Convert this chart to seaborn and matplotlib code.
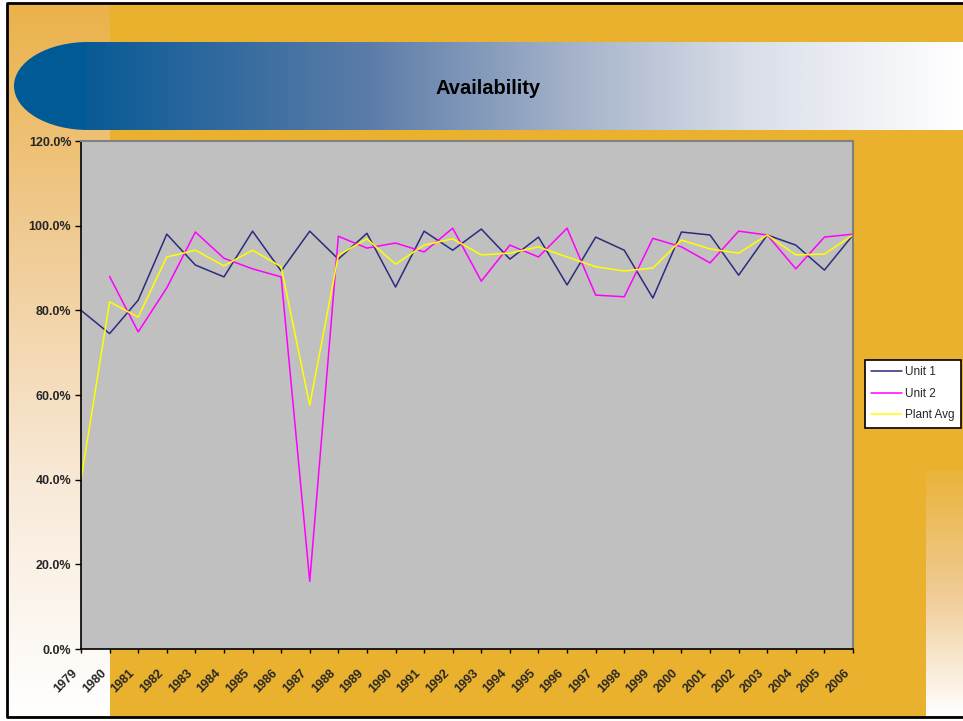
import numpy as np
import pandas as pd
import matplotlib
matplotlib.use('Agg')
import matplotlib.pyplot as plt
import matplotlib.transforms as mtransforms
import seaborn as sns
from matplotlib.patches import Rectangle, Ellipse
from matplotlib.colors import LinearSegmentedColormap
from matplotlib.ticker import PercentFormatter

# ---------------- data ----------------
years = list(range(1979, 2007))
unit1 = [80.0, 74.5, 82.4, 98.0, 90.7, 87.9, 98.7, 89.3, 98.7, 92.1, 98.2, 85.5, 98.7, 94.2,
         99.2, 92.1, 97.3, 86.0, 97.3, 94.2, 82.9, 98.5, 97.8, 88.3, 97.8, 95.4, 89.5, 97.8]
unit2 = [np.nan, 88.0, 74.9, 85.3, 98.5, 92.3, 89.8, 87.9, 16.0, 97.5, 94.7, 95.9, 93.8, 99.4,
         86.9, 95.4, 92.6, 99.4, 83.6, 83.2, 97.0, 95.0, 91.2, 98.7, 97.8, 89.8, 97.3, 98.0]
plant_avg = [40.0, 82.0, 78.4, 92.6, 94.2, 90.5, 94.2, 90.3, 57.6, 93.0, 96.9, 90.9, 95.4, 96.9,
             93.1, 93.5, 95.0, 92.6, 90.3, 89.3, 90.0, 96.6, 94.5, 93.5, 97.8, 93.1, 93.3, 97.8]
series_names = ['Unit 1', 'Unit 2', 'Plant Avg']
series_colors = ['#2B2B80', '#FF00FF', '#FFFF00']
title = 'Availability'

df = pd.concat([
    pd.DataFrame({'Year': years, 'Value': np.array(v) / 100.0, 'Series': n})
    for n, v in zip(series_names, [unit1, unit2, plant_avg])
], ignore_index=True).dropna()

# ---------------- figure ----------------
sns.set_theme(style='white')
plt.rcParams['font.family'] = ['Liberation Sans', 'DejaVu Sans']

W, H = 963, 721
fig = plt.figure(figsize=(W / 100, H / 100), dpi=100)
fig.patch.set_facecolor('white')

# background decoration axes (pixel coordinates)
bg = fig.add_axes([0, 0, 1, 1], zorder=0)
bg.add_patch(Rectangle((7, 3), W, 714, facecolor='#EAB12F', edgecolor='none', zorder=1))
grad = np.linspace(0, 1, 256).reshape(-1, 1)
cm_left = LinearSegmentedColormap.from_list('l', ['#EBB24A', '#F0CB94', '#F8E9D7', '#FFFFFF'])
bg.imshow(grad, extent=(8, 110, 716, 4), cmap=cm_left, aspect='auto',
          interpolation='bilinear', zorder=2)
cm_right = LinearSegmentedColormap.from_list('r', ['#EAB33A', '#F0CB94', '#FFFFFF'])
bg.imshow(grad, extent=(926, W, 716, 470), cmap=cm_right, aspect='auto',
          interpolation='bilinear', zorder=2)
# title banner
bg.add_patch(Ellipse((88, 86), 148, 88, facecolor='#005A96', edgecolor='none', zorder=3))
gradx = np.linspace(0, 1, 512).reshape(1, -1)
cm_ban = LinearSegmentedColormap.from_list(
    'b', [(0, '#0A5A96'), (0.32, '#5B7CA8'), (0.55, '#A3B1C9'), (0.75, '#D8DDE7'), (1, '#FFFFFF')])
bg.imshow(gradx, extent=(86, W, 130, 42), cmap=cm_ban, aspect='auto',
          interpolation='bilinear', zorder=4)
# outer black frame (left, top, bottom)
bg.plot([W, 7, 7, W], [3, 3, 717, 717], color='black', lw=2, solid_capstyle='butt', zorder=5)
bg.set_xlim(0, W)
bg.set_ylim(H, 0)
bg.axis('off')

fig.text(488 / W, 1 - 88 / H, title, ha='center', va='center',
         fontsize=14.5, fontweight='bold', color='black', zorder=5)

# ---------------- chart ----------------
ax = fig.add_axes([81 / W, 1 - 649 / H, (853 - 81) / W, (649 - 141) / H], zorder=2)
ax.set_facecolor('#C0C0C0')
sns.lineplot(data=df, x='Year', y='Value', hue='Series', hue_order=series_names,
             palette=series_colors, linewidth=1.1, ax=ax, legend=True)

ax.set_xlim(years[0], years[-1])
ax.set_ylim(0, 1.2)
ax.set_yticks(np.arange(0, 1.21, 0.2))
ax.yaxis.set_major_formatter(PercentFormatter(1.0, decimals=1))
ax.set_xticks(years)
ax.set_xticklabels([str(y) for y in years])
ax.set_xlabel('')
ax.set_ylabel('')
ax.grid(False)

ax.tick_params(axis='y', direction='out', length=4, width=1, color='black', pad=3,
               labelsize=9, left=True)
ax.tick_params(axis='x', direction='out', length=3, width=1, color='black', pad=13,
               labelsize=9, bottom=True)
offset = mtransforms.ScaledTranslation(-5 / 100, 0, fig.dpi_scale_trans)
for lab in ax.get_xticklabels():
    lab.set_rotation(45)
    lab.set_ha('right')
    lab.set_va('center')
    lab.set_rotation_mode('anchor')
    lab.set_fontweight('bold')
    lab.set_transform(lab.get_transform() + offset)
for lab in ax.get_yticklabels():
    lab.set_fontweight('bold')

for s in ['left', 'bottom']:
    ax.spines[s].set_color('black')
    ax.spines[s].set_linewidth(1.2)
for s in ['top', 'right']:
    ax.spines[s].set_color('#808080')
    ax.spines[s].set_linewidth(1.5)

handles, labels = ax.get_legend_handles_labels()
leg = ax.legend(handles, labels, loc='upper left',
                bbox_to_anchor=(865 / W, 1 - 360 / H), bbox_transform=fig.transFigure,
                frameon=True, fancybox=False, framealpha=1, facecolor='white',
                edgecolor='black', fontsize=8.5, handlelength=2.6, handletextpad=0.2,
                borderpad=0.55, labelspacing=0.8, borderaxespad=0)
leg.get_frame().set_linewidth(1.2)
for line in leg.get_lines():
    line.set_linewidth(1.1)

fig.savefig('out.png', dpi=100)
